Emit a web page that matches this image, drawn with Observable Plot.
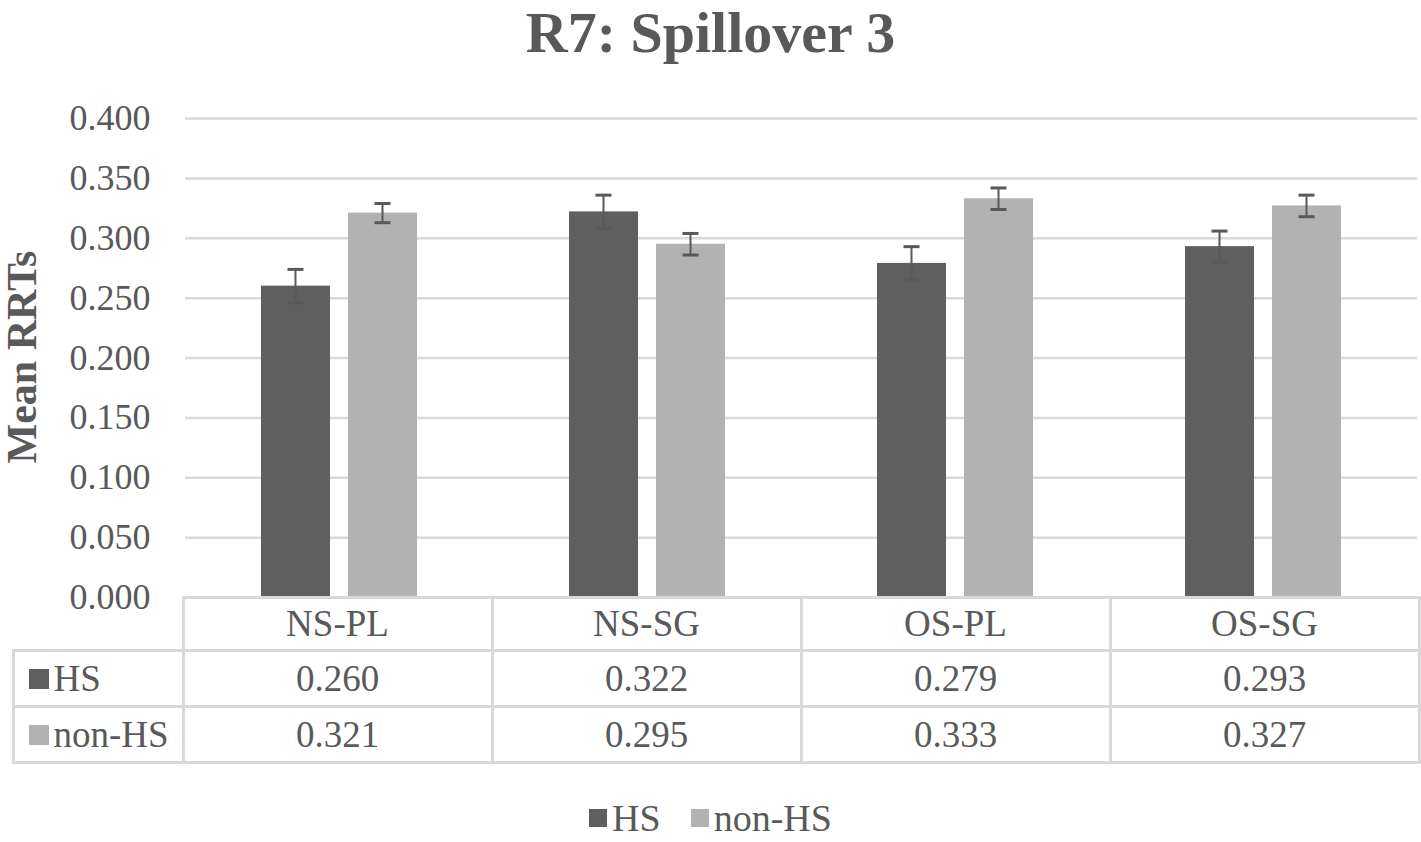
<!DOCTYPE html>
<html>
<head>
<meta charset="utf-8">
<script src="https://cdn.jsdelivr.net/npm/d3@7"></script>
<script src="https://cdn.jsdelivr.net/npm/@observablehq/plot@0.6"></script>
<style>
  html, body { margin: 0; padding: 0; background: #fff; }
  #wrap { position: relative; width: 1421px; height: 842px; font-family: "Liberation Serif", "Times New Roman", Tinos, Times, "DejaVu Serif", serif; color: #595959; overflow: hidden; }
  #title { position: absolute; top: 4px; left: 0; width: 1421px; text-align: center; font-weight: bold; font-size: 58px; line-height: 58px; }
  #ylabel { position: absolute; left: 22px; top: 357px; transform: translate(-50%, -50%) rotate(-90deg); font-weight: bold; font-size: 42px; white-space: nowrap; line-height: 42px; }
  #chart { position: absolute; top: 80px; left: 0; }
  #chart svg { overflow: visible; }
  #tbl { position: absolute; left: 11.5px; top: 595.5px; border-collapse: collapse; table-layout: fixed; width: 1408px; font-size: 37px; }
  #tbl td, #tbl th { border: 3px solid #d9d9d9; padding: 0; text-align: center; font-weight: normal; line-height: 37px; }
  #tbl td.rowlab { text-align: left; padding-left: 14px; white-space: nowrap; }
  .sw { display: inline-block; width: 20px; height: 20px; margin-right: 5px; vertical-align: 2px; }
  #legend { position: absolute; top: 797px; left: 0; width: 1421px; display: flex; justify-content: center; font-size: 38px; line-height: 42px; }
  #legend .item { display: flex; align-items: center; margin: 0 15px; }
  #legend .lsw { width: 18px; height: 18px; margin-right: 5px; }
</style>
</head>
<body>
<div id="wrap">
  <div id="title"></div>
  <div id="ylabel"></div>
  <div id="chart"></div>
  <table id="tbl"></table>
  <div id="legend"></div>
</div>
<script>
const titleText = "R7: Spillover 3";
const yLabelText = "Mean RRTs";
const categories = ["NS-PL", "NS-SG", "OS-PL", "OS-SG"];
const series = ["HS", "non-HS"];
const hsValues = [0.260, 0.322, 0.279, 0.293];
const nonHsValues = [0.321, 0.295, 0.333, 0.327];
const hsErrors = [0.014, 0.014, 0.014, 0.013];
const nonHsErrors = [0.008, 0.009, 0.009, 0.009];
const yTicks = [0, 0.05, 0.1, 0.15, 0.2, 0.25, 0.3, 0.35, 0.4];
const colors = ["#5f5f5f", "#b2b2b2"];

const fontStack = '"Liberation Serif", "Times New Roman", Tinos, Times, "DejaVu Serif", serif';
const valuesBySeries = [hsValues, nonHsValues];
const errorsBySeries = [hsErrors, nonHsErrors];
const data = categories.flatMap((cat, i) => series.map((s, j) => ({
  cat, series: s, value: valuesBySeries[j][i], err: errorsBySeries[j][i]
})));

document.getElementById("title").textContent = titleText;
document.getElementById("ylabel").textContent = yLabelText;

const fmt = d3.format(".3f");
const errColor = "#595959";

const chart = Plot.plot({
  width: 1421,
  height: 537,
  marginTop: 38,
  marginBottom: 20,
  marginLeft: 183,
  marginRight: 3,
  fx: {domain: categories, padding: 0, axis: null},
  x: {domain: series, paddingInner: 0.2045, paddingOuter: 0.858, axis: null},
  y: {domain: [0, 0.4], axis: null},
  color: {domain: series, range: colors},
  style: {fontFamily: fontStack, fontSize: "36px", color: "#595959", background: "transparent"},
  marks: [
    Plot.ruleY(yTicks, {stroke: "#d9d9d9", strokeWidth: 2.5}),
    Plot.barY(data, {fx: "cat", x: "series", y: "value", fill: "series"}),
    Plot.barY(data, {fx: "cat", x: "series", y1: d => d.value - d.err, y2: d => d.value + d.err,
      fill: errColor, insetLeft: 33.5, insetRight: 33.5}),
    Plot.tickY(data, {fx: "cat", x: "series", y: d => d.value - d.err, stroke: errColor, strokeWidth: 3,
      insetLeft: 26.5, insetRight: 26.5}),
    Plot.tickY(data, {fx: "cat", x: "series", y: d => d.value + d.err, stroke: errColor, strokeWidth: 3,
      insetLeft: 26.5, insetRight: 26.5}),
    Plot.axisY(yTicks, {tickSize: 0, tickPadding: 35, tickFormat: fmt, fontSize: 36, fill: "#595959", label: null})
  ]
});
document.getElementById("chart").appendChild(chart);

// Data table
const tbl = d3.select("#tbl");
const cg = tbl.append("colgroup");
cg.append("col").style("width", "170px");
categories.forEach(() => cg.append("col").style("width", "309px"));
const hdr = tbl.append("tr").style("height", "53px");
hdr.append("th").style("border-top", "none").style("border-left", "none");
categories.forEach(c => hdr.append("th").text(c));
series.forEach((s, j) => {
  const tr = tbl.append("tr").style("height", "56px");
  const lab = tr.append("td").attr("class", "rowlab");
  lab.append("span").attr("class", "sw").style("background", colors[j]);
  lab.append("span").text(s);
  valuesBySeries[j].forEach(v => tr.append("td").text(fmt(v)));
});

// Legend
const leg = d3.select("#legend");
series.forEach((s, j) => {
  const it = leg.append("div").attr("class", "item");
  it.append("div").attr("class", "lsw").style("background", colors[j]);
  it.append("span").text(s);
});
</script>
</body>
</html>
